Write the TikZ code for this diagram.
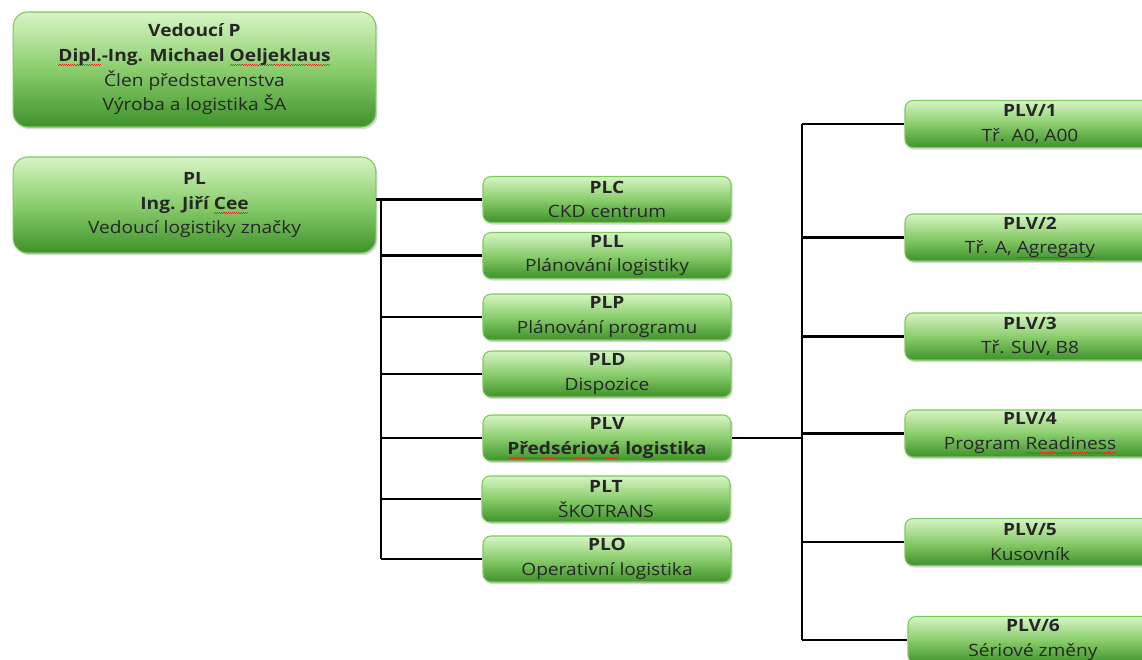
\documentclass[tikz,border=0pt]{standalone}
\usepackage{fontspec}
\setmainfont{Open Sans}[FakeStretch=1.13]
\usetikzlibrary{shadows}

\newcommand\spellwave[1]{\setbox0\hbox{#1}\rlap{\textcolor{spell}{%
  \leaders\hbox{\rule[-3.4pt]{.8pt}{.55pt}\rule[-2.7pt]{.8pt}{.55pt}}%
  \hskip\wd0}}\box0\relax}

\begin{document}
\begin{tikzpicture}[
  x=.75pt,y=-.75pt,
  font=\fontsize{12.7}{18.5}\selectfont,
  link/.style={line width=2.1pt,draw=black},
  box/.style={draw=edge,line width=.8pt,top color=light,bottom color=dark,
    middle color=mid,align=center,text=black!85,inner sep=1pt,
    drop shadow={shadow xshift=1.2pt,shadow yshift=-1.6pt,opacity=.3}},
  chief/.style={box,rounded corners=11pt,minimum width=272pt},
  unit/.style={box,rounded corners=6pt,minimum width=186pt,minimum height=34.5pt},
  team/.style={box,rounded corners=6pt,minimum width=187.5pt,minimum height=35.25pt}
]

\definecolor{light}{RGB}{214,245,196}
\definecolor{mid}{RGB}{138,205,108}
\definecolor{dark}{RGB}{62,146,42}
\definecolor{edge}{RGB}{128,200,98}
\definecolor{spell}{RGB}{226,40,30}

\useasboundingbox (0,0) rectangle (1142,660);
\fill[white] (0,0) rectangle (1142,660);
\clip (0,0) rectangle (1142,660);

% management
\node[chief,minimum height=86.25pt] (boss) at (194.5,69.5)
  {\textbf{Vedoucí P}\\
   \textbf{\spellwave{Dipl.}-Ing. Michael \spellwave{Oeljeklaus}}\\
   Člen představenstva\\Výroba a logistika ŠA};
\node[chief,minimum height=72pt] (pl) at (194.5,205)
  {\textbf{PL}\\\textbf{Ing. Jiří \spellwave{Cee}}\\Vedoucí logistiky značky};

% departments
\node[unit] (plc) at (607,199.5) {\textbf{PLC}\\CKD centrum};
\node[unit] (pll) at (607,255.5) {\textbf{PLL}\\Plánování logistiky};
\node[unit] (plp) at (607,317) {\textbf{PLP}\\Plánování programu};
\node[unit] (pld) at (607,374) {\textbf{PLD}\\Dispozice};
\node[unit] (plv) at (607,438)
  {\textbf{PLV}\\\textbf{\spellwave{Předsériová} logistika}};
\node[unit] (plt) at (606,499) {\textbf{PLT}\\ŠKOTRANS};
\node[unit] (plo) at (607,559) {\textbf{PLO}\\Operativní logistika};

% PLV teams
\node[team] (plv1) at (1030,124) {\textbf{PLV/1}\\Tř. A0, A00};
\node[team] (plv2) at (1030,237.5) {\textbf{PLV/2}\\Tř. A, \spellwave{Agregaty}};
\node[team] (plv3) at (1030,336.5) {\textbf{PLV/3}\\Tř. SUV, B8};
\node[team] (plv4) at (1030,433.5) {\textbf{PLV/4}\\Program \spellwave{Readiness}};
\node[team] (plv5) at (1030,542) {\textbf{PLV/5}\\Kusovník};
\node[team] (plv6) at (1033,640) {\textbf{PLV/6}\\Sériové změny};

% connectors
\coordinate (bus) at (381,0);
\coordinate (rbus) at (802,0);
\draw[link] (pl.east |- plc.west) -- (plc.west);
\draw[link] (bus |- plc.west) -- (bus |- plo.west);
\foreach \n in {pll,plp,pld,plv,plt,plo}
  \draw[link] (bus |- \n.west) -- (\n.west);

\draw[link] (plv.east) -- (rbus |- plv.east);
\draw[link] (rbus |- plv1.west) -- (rbus |- plv6.west);
\foreach \n in {plv1,plv2,plv3,plv4,plv5,plv6}
  \draw[link] (rbus |- \n.west) -- (\n.west);

\end{tikzpicture}
\end{document}
